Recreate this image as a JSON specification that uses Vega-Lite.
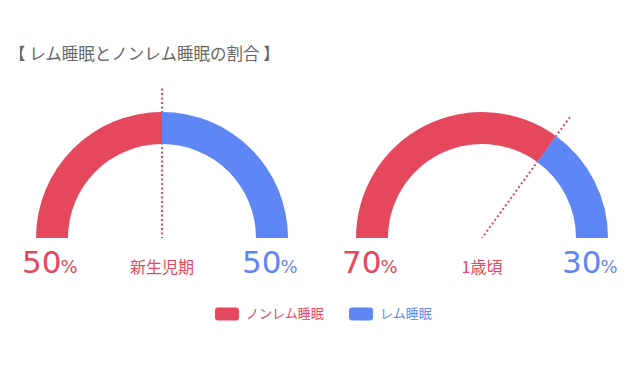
{
  "$schema": "https://vega.github.io/schema/vega-lite/v6.json",
  "padding": {"left": 2, "top": 47, "right": 0, "bottom": 0},
  "background": "white",
  "title": {
    "text": "【 レム睡眠とノンレム睡眠の割合 】",
    "anchor": "start",
    "frame": "group",
    "fontSize": 16.5,
    "font": "Noto Sans CJK JP",
    "fontWeight": "normal",
    "color": "#666666",
    "offset": 16.5,
    "dx": 7
  },
  "data": {
    "values": [
      {"stage": "新生児期", "type": "ノンレム睡眠", "value": 50},
      {"stage": "新生児期", "type": "レム睡眠", "value": 50},
      {"stage": "1歳頃", "type": "ノンレム睡眠", "value": 70},
      {"stage": "1歳頃", "type": "レム睡眠", "value": 30}
    ]
  },
  "facet": {
    "column": {"field": "stage", "type": "nominal", "sort": ["新生児期", "1歳頃"], "header": null}
  },
  "spacing": 0,
  "spec": {
    "width": 320,
    "height": 316,
    "layer": [
      {
        "transform": [{"filter": "datum.type === 'ノンレム睡眠'"}],
        "mark": {"type": "arc", "radius": 149.5, "radius2": 0, "filled": false, "stroke": "#e5475d", "strokeWidth": 2, "strokeDash": [2, 2.5]},
        "encoding": {
          "theta": {"field": "value", "type": "quantitative", "stack": null, "scale": {"domain": [0, 100], "range": [-1.5707963, 1.5707963]}},
          "theta2": {"field": "value"}
        }
      },
      {
        "mark": {"type": "arc", "radius": 126, "radius2": 94},
        "encoding": {
          "theta": {"field": "value", "type": "quantitative", "stack": true, "scale": {"domain": [0, 100], "range": [-1.5707963, 1.5707963]}},
          "order": {"field": "type", "sort": "ascending"},
          "color": {
            "field": "type",
            "type": "nominal",
            "scale": {"domain": ["ノンレム睡眠", "レム睡眠"], "range": ["#e5475d", "#5e87f5"]},
            "legend": {
              "orient": "none",
              "legendX": 213,
              "legendY": 222,
              "direction": "horizontal",
              "title": null,
              "symbolType": "M-0.75,-0.55L0.75,-0.55Q1,-0.55 1,-0.3L1,0.3Q1,0.55 0.75,0.55L-0.75,0.55Q-1,0.55 -1,0.3L-1,-0.3Q-1,-0.55 -0.75,-0.55Z",
              "symbolSize": 576,
              "symbolStrokeWidth": 0,
              "symbolOpacity": 1,
              "labelFont": "Noto Sans CJK JP",
              "labelFontSize": 13,
              "labelOffset": 7,
              "columnPadding": 24,
              "encode": {"labels": {"update": {"fill": {"signal": "scale('color', datum.value)"}}}}
            }
          }
        }
      },
      {
        "transform": [{"filter": "datum.type === 'ノンレム睡眠'"}],
        "mark": {"type": "text", "baseline": "alphabetic", "dy": 35, "font": "Noto Sans CJK JP", "fontSize": 16, "fill": "#e5475d"},
        "encoding": {"text": {"field": "stage"}}
      },
      {
        "mark": {"type": "text", "baseline": "alphabetic", "align": "right", "dy": 35, "dx": 9.5, "font": "DejaVu Sans", "fontSize": 31},
        "encoding": {
          "x": {"field": "type", "type": "nominal", "scale": {"type": "point", "domain": ["ノンレム睡眠", "レム睡眠"], "range": [50, 270], "padding": 0}, "axis": null},
          "text": {"field": "value"},
          "color": {"field": "type", "type": "nominal", "legend": null}
        }
      },
      {
        "mark": {"type": "text", "baseline": "alphabetic", "align": "left", "dy": 35, "dx": 8.5, "font": "DejaVu Sans", "fontSize": 18},
        "encoding": {
          "x": {"field": "type", "type": "nominal", "axis": null},
          "text": {"value": "%"},
          "color": {"field": "type", "type": "nominal", "legend": null}
        }
      }
    ]
  },
  "config": {
    "view": {"stroke": null},
    "font": "Noto Sans CJK JP"
  }
}
